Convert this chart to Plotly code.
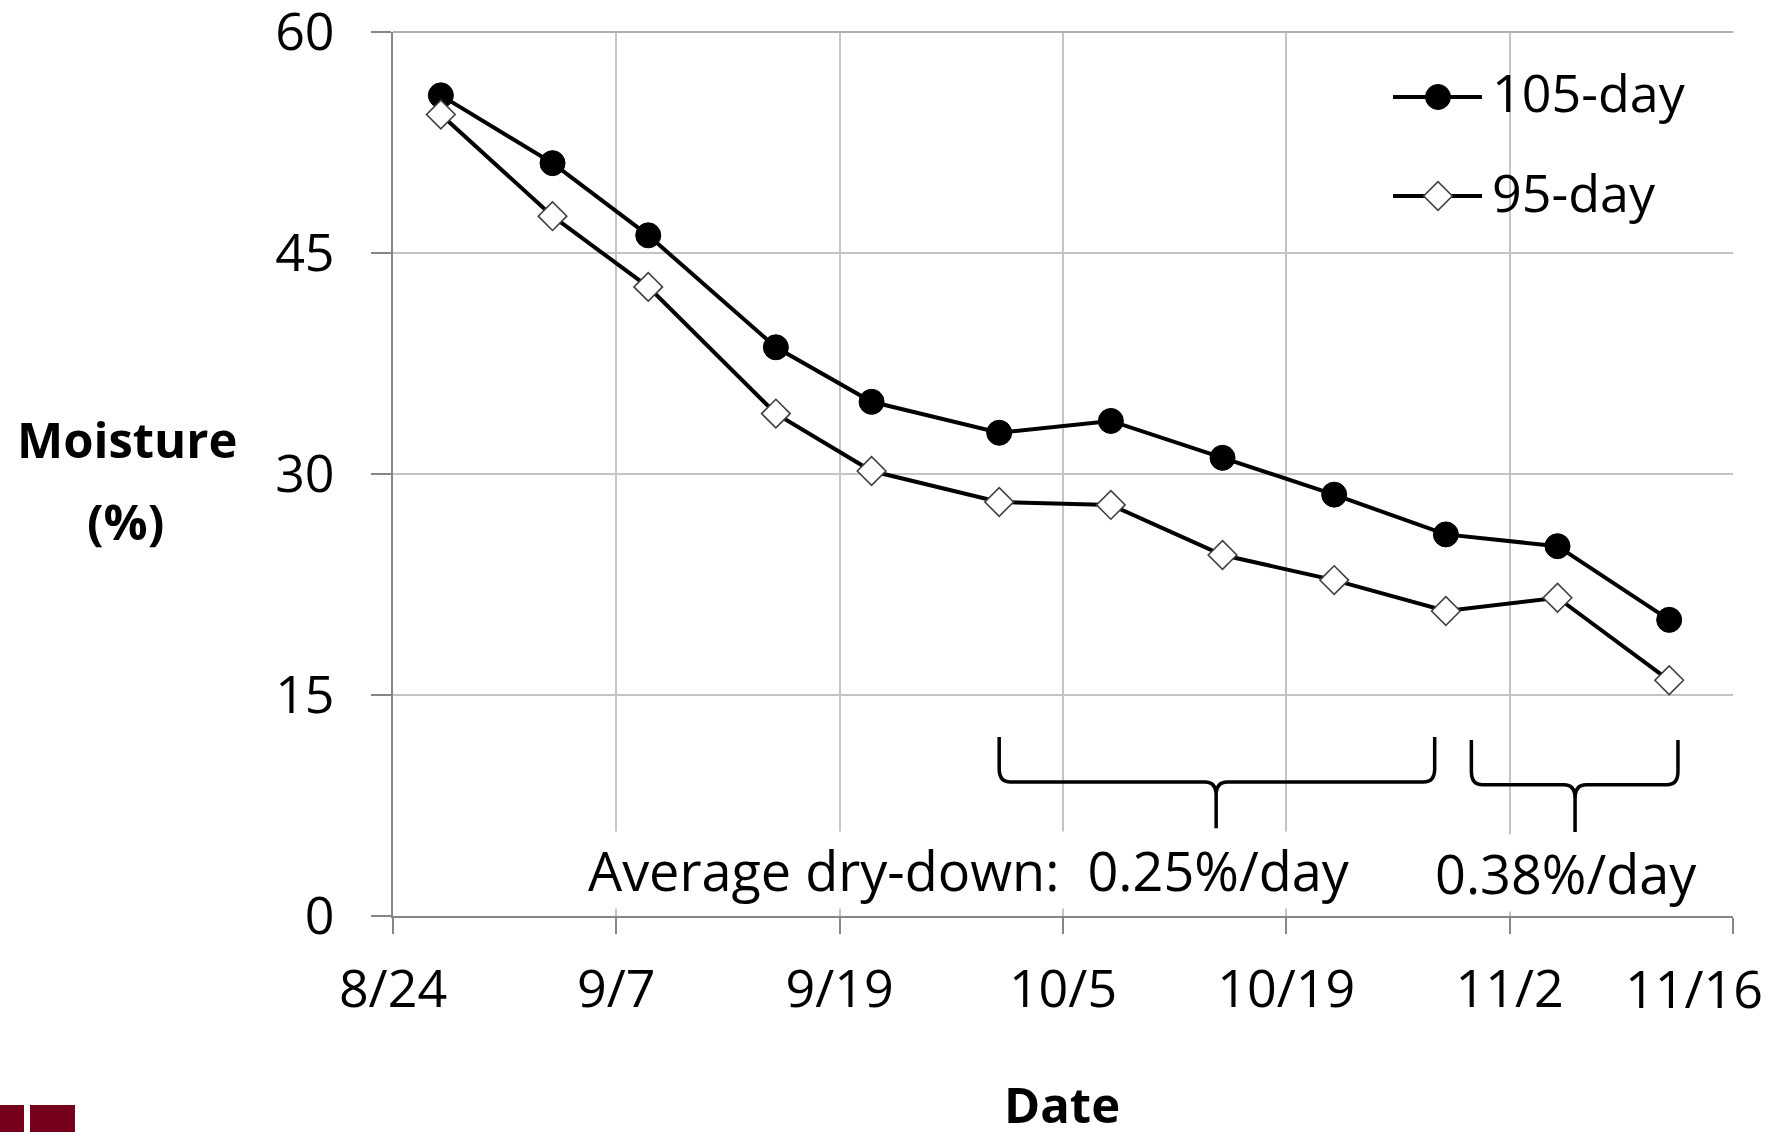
import plotly.graph_objects as go

# ---- data (x = days after 8/24) ----
day_offsets = [3, 10, 16, 24, 30, 38, 45, 52, 59, 66, 73, 80]
moist_105 = [55.7, 51.1, 46.2, 38.6, 34.9, 32.8, 33.6, 31.1, 28.6, 25.9, 25.1, 20.1]
moist_95 = [54.4, 47.5, 42.7, 34.1, 30.2, 28.1, 27.9, 24.5, 22.8, 20.7, 21.6, 16.0]
series_names = ["105-day", "95-day"]

tick_days = [0, 14, 28, 42, 56, 70, 84]
tick_labels = ["8/24", "9/7", "9/19", "10/5", "10/19", "11/2", "11/16"]
y_ticks = [0, 15, 30, 45, 60]

# brace spans: (x_start, x_end, x_tip, y_top, y_mid, y_tip)
braces = [
    (38.0, 65.3, 51.6, 12.15, 9.1, 5.95),
    (67.6, 80.55, 74.1, 11.95, 8.9, 5.7),
]
rate_labels = ["Average dry-down:  0.25%/day", "0.38%/day"]
rate_label_x = [36.1, 73.5]
rate_label_y = [3.1, 2.9]

FONT = "Open Sans, Noto Sans, sans-serif"
W, H = 1788, 1132
L, R, T, B = 393, 55, 32, 216
pw, ph = W - L - R, H - T - B


def px_x(p):
    return (p - L) / pw


def px_y(p):
    return (H - B - p) / ph


styles = [
    dict(line=dict(color="black", width=4),
         marker=dict(symbol="circle", size=25, color="black", line=dict(color="black", width=1))),
    dict(line=dict(color="black", width=4),
         marker=dict(symbol="diamond", size=22, color="white", line=dict(color="#404040", width=1.6))),
]

fig = go.Figure()
for name, vals, st in zip(series_names, [moist_105, moist_95], styles):
    fig.add_trace(go.Scatter(x=day_offsets, y=vals, name=name, mode="lines+markers",
                             line=st["line"], marker=st["marker"], showlegend=False))

# ---- hand-drawn legend (line sample + marker) on an overlay paper-like axis ----
legend_rows_px = [97, 196]
leg_x0, leg_xm, leg_x1, leg_text = 1393, 1438, 1482, 1490
annotations = []
for name, st, ry in zip(series_names, styles, legend_rows_px):
    fig.add_trace(go.Scatter(x=[px_x(leg_x0), px_x(leg_x1)], y=[px_y(ry)] * 2,
                             xaxis="x2", yaxis="y2", mode="lines", line=st["line"],
                             showlegend=False, hoverinfo="skip"))
    fig.add_trace(go.Scatter(x=[px_x(leg_xm)], y=[px_y(ry)], xaxis="x2", yaxis="y2",
                             mode="markers", marker=st["marker"],
                             showlegend=False, hoverinfo="skip"))
    annotations.append(dict(x=px_x(leg_text), y=px_y(ry - 5), xref="paper", yref="paper",
                            text=name, showarrow=False, xanchor="left", yanchor="middle",
                            font=dict(family=FONT, size=52, color="black")))

shapes = [
    dict(type="rect", xref="paper", yref="paper", x0=px_x(1370), x1=px_x(1731),
         y0=px_y(245), y1=px_y(34), fillcolor="white", line=dict(width=0), layer="between"),
    dict(type="line", xref="paper", yref="paper", x0=0, x1=1, y0=1, y1=1,
         line=dict(color="#B0B0B0", width=2), layer="above"),
]
for (x0, x1, xc, yt, ym, yb) in braces:
    rx, ry = 0.7, 0.9
    path = (f"M {x0},{yt} L {x0},{ym+ry} Q {x0},{ym} {x0+rx},{ym} "
            f"L {xc-rx},{ym} Q {xc},{ym} {xc},{ym-ry} L {xc},{yb} "
            f"M {xc},{ym-ry} Q {xc},{ym} {xc+rx},{ym} "
            f"L {x1-rx},{ym} Q {x1},{ym} {x1},{ym+ry} L {x1},{yt}")
    shapes.append(dict(type="path", xref="x", yref="y", path=path,
                       line=dict(color="black", width=3.5)))

# logo fragment bottom-left
for (a, b) in [(0, 24), (30, 75)]:
    shapes.append(dict(type="rect", xref="paper", yref="paper",
                       x0=px_x(a), x1=px_x(b), y0=px_y(1132), y1=px_y(1105),
                       fillcolor="#76001B", line=dict(width=0), layer="above"))

for txt, ax, ay in zip(rate_labels, rate_label_x, rate_label_y):
    annotations.append(dict(x=ax, y=ay, xref="x", yref="y", text=txt, showarrow=False,
                            font=dict(family=FONT, size=54, color="black"),
                            bgcolor="white", borderpad=1, xanchor="center", yanchor="middle"))
annotations += [
    dict(x=px_x(127), y=px_y(439), xref="paper", yref="paper", text="<b>Moisture</b>",
         showarrow=False, font=dict(family=FONT, size=49, color="black"),
         xanchor="center", yanchor="middle"),
    dict(x=px_x(125), y=px_y(521), xref="paper", yref="paper", text="<b>(%)</b>",
         showarrow=False, font=dict(family=FONT, size=49, color="black"),
         xanchor="center", yanchor="middle"),
    dict(x=px_x(1062), y=px_y(1104), xref="paper", yref="paper", text="<b>Date</b>",
         showarrow=False, font=dict(family=FONT, size=49, color="black"),
         xanchor="center", yanchor="middle"),
    dict(x=px_x(1694), y=px_y(988), xref="paper", yref="paper", text=tick_labels[-1],
         showarrow=False, font=dict(family=FONT, size=52, color="black"),
         xanchor="center", yanchor="middle"),
]

fig.update_layout(
    width=W, height=H, autosize=False,
    margin=dict(l=L, r=R, t=T, b=B, pad=0, autoexpand=False),
    paper_bgcolor="white", plot_bgcolor="white",
    font=dict(family=FONT, size=52, color="black"),
    shapes=shapes, annotations=annotations,
    showlegend=False,
    xaxis2=dict(overlaying="x", range=[0, 1], visible=False, fixedrange=True),
    yaxis2=dict(overlaying="y", range=[0, 1], visible=False, fixedrange=True),
)
fig.layout.xaxis.update(
    range=[0, 84], tickmode="array", tickvals=tick_days,
    ticktext=tick_labels[:-1] + [""], automargin=False,
    showgrid=True, gridcolor="#C4C4C4", gridwidth=1.6,
    showline=True, linecolor="#868686", linewidth=2,
    ticks="outside", ticklen=16, tickcolor="#868686", tickwidth=2,
    ticklabelstandoff=11, zeroline=False,
)
fig.layout.yaxis.update(
    range=[0, 60], tickmode="array", tickvals=y_ticks, automargin=False,
    showgrid=True, gridcolor="#C4C4C4", gridwidth=2,
    showline=True, linecolor="#868686", linewidth=2,
    ticks="outside", ticklen=20, tickcolor="#868686", tickwidth=2,
    ticklabelstandoff=26, zeroline=False, ticklabeloverflow="allow",
)

fig.write_html("out.html")
